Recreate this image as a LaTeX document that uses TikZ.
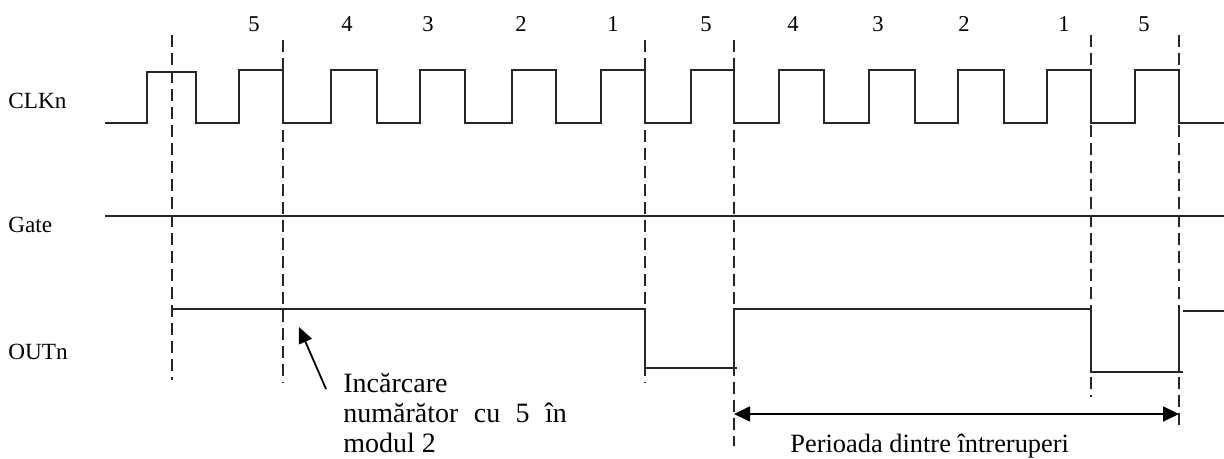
\documentclass[tikz,border=0pt]{standalone}
\usepackage{fontspec}
\setmainfont{Liberation Serif}
\usetikzlibrary{arrows.meta}
\begin{document}
\begin{tikzpicture}[x=0.5pt,y=-0.5pt,
  wave/.style={line width=0.8pt,draw=black!85},
  marker/.style={line width=0.7pt,draw=black!85,dash pattern=on 6pt off 3pt},
  siglabel/.style={font=\fontsize{11.6}{13}\selectfont,anchor=base west,inner sep=0pt},
  countlabel/.style={font=\fontsize{11.3}{13}\selectfont,anchor=base,inner sep=0pt},
  note/.style={font=\fontsize{14}{15}\selectfont,anchor=base west,inner sep=0pt,align=left},
  pointer/.style={line width=0.9pt,-{Triangle[length=8pt,width=7pt]}},
  span/.style={line width=0.9pt,{Triangle[length=8pt,width=7.5pt]}-{Triangle[length=8pt,width=7.5pt]}}]
\useasboundingbox (0,0) rectangle (1224,459);

% signal names
\node[siglabel] (clk)  at (8,109) {CLKn};
\node[siglabel] (gate) at (8,233) {Gate};
\node[siglabel] (out)  at (8,359) {OUTn};

% counter values
\foreach \x/\v [count=\i] in {254/5,347/4,428/3,521/2,613/1,706/5,793/4,878/3,964/2,1064/1,1144/5}
  \node[countlabel] (cnt\i) at (\x,32) {\v};

% clock waveform
\draw[wave] (105,123) -| (147,72) -| (196,123) -| (239,70) -| (283,123)
  -| (331,70) -| (377,123) -| (420,70) -| (465,123) -| (512,70) -| (556,123)
  -| (601,70) -| (645,123) -| (691,70) -| (734,123) -| (779,70) -| (824,123)
  -| (869,70) -| (915,123) -| (958,70) -| (1004,123) -| (1047,70) -| (1091,123)
  -| (1135,70) -| (1179,123) -- (1224,123);

% gate level
\draw[wave] (105,216) -- (1224,216);

% output waveform
\draw[wave] (172,309) -- (645,309) -- (645,368) -- (737,368);
\draw[wave] (734,368) -- (734,309) -- (1091,309) -- (1091,372) -- (1183,372);
\draw[wave] (1179,372) -- (1179,311);
\draw[wave] (1183,311) -- (1224,311);

% timing markers
\foreach \n/\x/\ya/\yb in {m1/172/35/380, m2/283/40/383, m3/645/40/383,
                           m4/734/40/446, m5/1091/35/397, m6/1179/35/430} {
  \coordinate (\n top) at (\x,\ya);
  \coordinate (\n bot) at (\x,\yb);
  \draw[marker] (\n top) -- (\n bot);
}

% load annotation (anchored on the baseline of its last line)
\node[note] (load) at (343,452) {Incărcare\\numărător\hspace{0.55em}cu\hspace{0.55em}5\hspace{0.55em}în\\modul 2};
\coordinate (loadtail) at (326,389);
\coordinate (loadtip) at (299,327);
\draw[pointer] (loadtail) -- (loadtip);

% interrupt period
\coordinate (pl) at (734,414);
\coordinate (pr) at (1179,414);
\draw[span] (pl) -- (pr);
\node[note,font=\fontsize{13.2}{15}\selectfont] (period) at (790,452) {Perioada dintre întreruperi};
\end{tikzpicture}
\end{document}
